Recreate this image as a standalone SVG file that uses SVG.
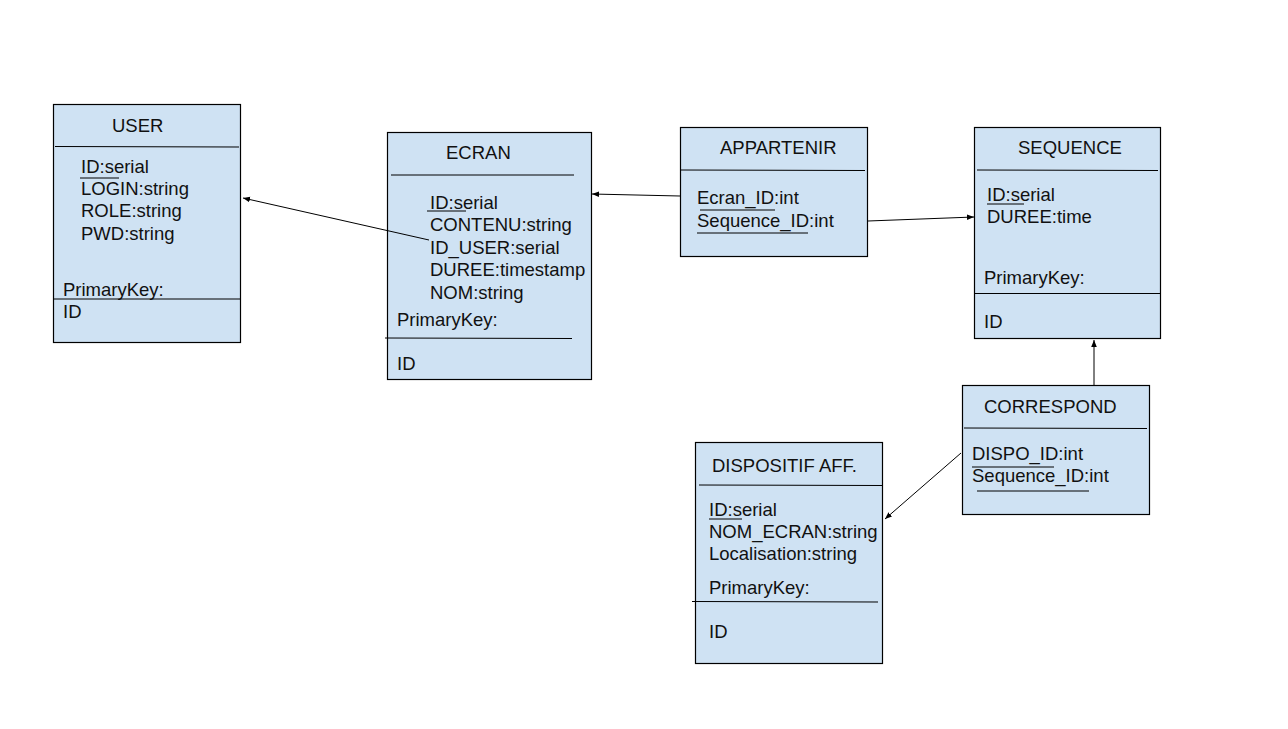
<svg xmlns="http://www.w3.org/2000/svg" width="1288" height="729" viewBox="0 0 1288 729">
<defs>
<style>
.box{fill:#cfe2f3;stroke:#000;stroke-width:1.2}
.ln{stroke:#000;stroke-width:1;fill:none}
.t{font-family:"Liberation Sans",Arial,sans-serif;font-size:18.5px;fill:#111}
.c{stroke:#000;stroke-width:1;fill:none;marker-end:url(#ah)}
</style>
<marker id="ah" viewBox="0 0 10 10" refX="10" refY="5" markerWidth="7" markerHeight="7" markerUnits="userSpaceOnUse" orient="auto">
<path d="M0,1 L10,5 L0,9 z" fill="#000"/>
</marker>
</defs>
<rect width="1288" height="729" fill="#fff"/>
<g id="user">
<rect class="box" x="53.5" y="104.5" width="187" height="238"/>
<text class="t" x="112" y="132">USER</text>
<line class="ln" x1="55" y1="146.5" x2="239" y2="147"/>
<text class="t" x="81" y="173">ID:serial</text>
<line class="ln" x1="80" y1="178" x2="119" y2="178"/>
<text class="t" x="81" y="195">LOGIN:string</text>
<text class="t" x="81" y="217">ROLE:string</text>
<text class="t" x="81" y="240">PWD:string</text>
<text class="t" x="63" y="296">PrimaryKey:</text>
<line class="ln" x1="53" y1="299" x2="240" y2="299"/>
<text class="t" x="63" y="318">ID</text>
</g>
<g id="ecran">
<rect class="box" x="387.5" y="132.5" width="204" height="247"/>
<text class="t" x="446" y="159">ECRAN</text>
<line class="ln" x1="391" y1="175" x2="574" y2="175"/>
<text class="t" x="430" y="209">ID:serial</text>
<line class="ln" x1="427" y1="211" x2="466" y2="211"/>
<text class="t" x="430" y="231">CONTENU:string</text>
<text class="t" x="430" y="254">ID_USER:serial</text>
<text class="t" x="430" y="276">DUREE:timestamp</text>
<text class="t" x="430" y="299">NOM:string</text>
<text class="t" x="397" y="326">PrimaryKey:</text>
<line class="ln" x1="385" y1="338" x2="572" y2="338.5"/>
<text class="t" x="397" y="370">ID</text>
</g>
<g id="appartenir">
<rect class="box" x="680.5" y="127.5" width="187" height="129"/>
<text class="t" x="720" y="154">APPARTENIR</text>
<line class="ln" x1="681" y1="170" x2="865" y2="170.5"/>
<text class="t" x="697" y="204">Ecran_ID:int</text>
<line class="ln" x1="700" y1="210" x2="775" y2="210"/>
<text class="t" x="697" y="227">Sequence_ID:int</text>
<line class="ln" x1="697" y1="233" x2="808" y2="233"/>
</g>
<g id="sequence">
<rect class="box" x="974.5" y="127.5" width="186" height="211"/>
<text class="t" x="1018" y="154">SEQUENCE</text>
<line class="ln" x1="977" y1="170" x2="1158" y2="170.5"/>
<text class="t" x="987" y="201">ID:serial</text>
<line class="ln" x1="987" y1="204" x2="1024" y2="204"/>
<text class="t" x="987" y="223">DUREE:time</text>
<text class="t" x="984" y="284">PrimaryKey:</text>
<line class="ln" x1="974" y1="293.5" x2="1160" y2="293.5"/>
<text class="t" x="984" y="328">ID</text>
</g>
<g id="correspond">
<rect class="box" x="962.5" y="385.5" width="187" height="129"/>
<text class="t" x="984" y="413">CORRESPOND</text>
<line class="ln" x1="964" y1="428" x2="1147" y2="428.5"/>
<text class="t" x="972" y="460">DISPO_ID:int</text>
<line class="ln" x1="972" y1="467" x2="1054" y2="467"/>
<text class="t" x="972" y="482">Sequence_ID:int</text>
<line class="ln" x1="977" y1="491" x2="1089" y2="491"/>
</g>
<g id="dispositif">
<rect class="box" x="695.5" y="442.5" width="187" height="221"/>
<text class="t" x="712" y="472">DISPOSITIF AFF.</text>
<line class="ln" x1="699" y1="485" x2="882" y2="485.5"/>
<text class="t" x="709" y="516">ID:serial</text>
<line class="ln" x1="709" y1="519" x2="742" y2="519"/>
<text class="t" x="709" y="538">NOM_ECRAN:string</text>
<text class="t" x="709" y="560">Localisation:string</text>
<text class="t" x="709" y="594">PrimaryKey:</text>
<line class="ln" x1="692" y1="601.5" x2="878" y2="602"/>
<text class="t" x="709" y="638">ID</text>
</g>
<g id="connectors">
<path class="c" d="M429,240 L243,198"/>
<path class="c" d="M680,196 L592,194"/>
<path class="c" d="M868,221 L974,217"/>
<path class="c" d="M1094,385 L1094,340"/>
<path class="c" d="M961,453 L885,519"/>
</g>
</svg>
